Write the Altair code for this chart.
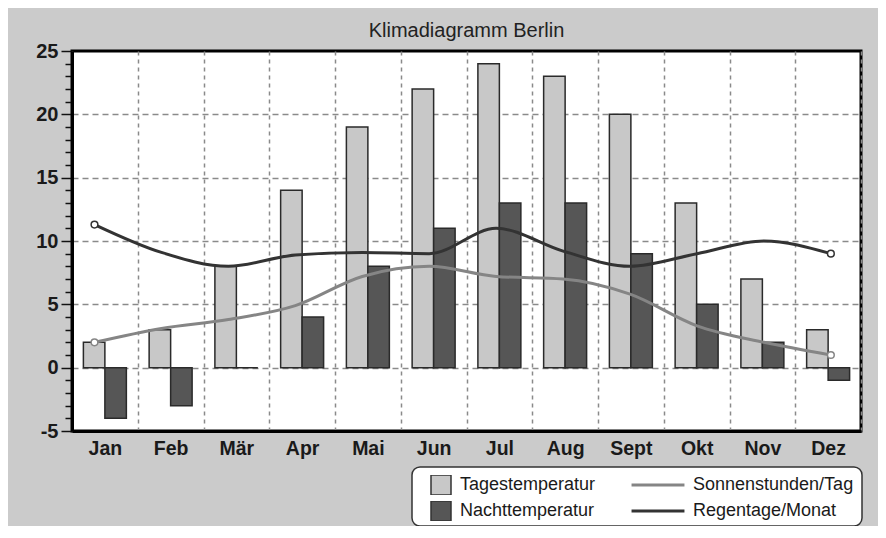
import altair as alt
import pandas as pd

# ---- data ----
months = ["Jan", "Feb", "Mär", "Apr", "Mai", "Jun", "Jul", "Aug", "Sept", "Okt", "Nov", "Dez"]
tagestemperatur = [2, 3, 8, 14, 19, 22, 24, 23, 20, 13, 7, 3]
nachttemperatur = [-4, -3, 0, 4, 8, 11, 13, 13, 9, 5, 2, -1]
sonnenstunden = [2.0, 3.1, 3.8, 4.9, 7.2, 8.0, 7.2, 7.0, 5.8, 3.3, 2.0, 1.0]
regentage = [11.3, 9.1, 8.0, 8.9, 9.1, 9.0, 11.0, 9.2, 8.0, 9.0, 10.0, 9.0]
y_ticks = list(range(-5, 26))

bar_series = ["Tagestemperatur", "Nachttemperatur"]
bar_colors = ["#c8c8c8", "#565656"]
line_series = ["Sonnenstunden/Tag", "Regentage/Monat"]
line_colors = ["#858585", "#333333"]

bars_df = pd.DataFrame(
    [{"Monat": m, "Serie": bar_series[0], "Wert": v} for m, v in zip(months, tagestemperatur)]
    + [{"Monat": m, "Serie": bar_series[1], "Wert": v} for m, v in zip(months, nachttemperatur)]
)
lines_df = pd.DataFrame(
    [{"i": i, "Monat": m, "Serie": line_series[0], "Farbe": line_colors[0], "Wert": v}
     for i, (m, v) in enumerate(zip(months, sonnenstunden))]
    + [{"i": i, "Monat": m, "Serie": line_series[1], "Farbe": line_colors[1], "Wert": v}
       for i, (m, v) in enumerate(zip(months, regentage))]
)
ends_df = lines_df[lines_df["i"].isin([0, len(months) - 1])]

FONT = "Liberation Sans"

y_scale = alt.Scale(domain=[-5, 25], nice=False)
y_axis = alt.Axis(
    values=y_ticks, title=None,
    labelExpr="datum.value % 5 == 0 ? replace(datum.label, '\u2212', '-') : ''",
    labelFont=FONT, labelFontSize=20, labelFontWeight="bold", labelColor="#1a1a1a",
    labelPadding=3,
    tickColor="#111111", tickWidth=1.5,
    tickSize={"condition": {"test": "datum.value % 5 === 0", "value": 11}, "value": 7},
    grid=True, gridColor="#8a8a8a", gridDash=[6, 4], gridWidth=1.5,
    gridOpacity={"condition": {"test": "datum.value % 5 === 0 && datum.value > -5 && datum.value < 25",
                               "value": 1}, "value": 0},
    domainColor="#000000", domainWidth=3,
)

x_axis = alt.Axis(
    title=None, labelAngle=0, labelFont=FONT, labelFontSize=19.5, labelFontWeight="bold",
    labelColor="#1a1a1a", labelPadding=8, ticks=False, tickBand="extent",
    grid=True, gridColor="#8a8a8a", gridDash=[4, 4], gridWidth=1.5,
    domainColor="#000000", domainWidth=3,
)

box = alt.Chart(pd.DataFrame({"k": [0]})).mark_rect(
    fill="white", stroke="#333333", strokeWidth=1.5, cornerRadius=8
).encode(
    x=alt.value(340), x2=alt.value(790), y=alt.value(416), y2=alt.value(475)
)

bars = alt.Chart(bars_df).mark_bar(stroke="#2a2a2a", strokeWidth=1.5).encode(
    x=alt.X("Monat:N", sort=months, axis=x_axis, scale=alt.Scale(paddingInner=0, paddingOuter=0)),
    xOffset=alt.XOffset("Serie:N", sort=bar_series,
                        scale=alt.Scale(domain=bar_series, paddingInner=0, paddingOuter=0.53)),
    y=alt.Y("Wert:Q", scale=y_scale, axis=y_axis),
    fill=alt.Fill(
        "Serie:N", scale=alt.Scale(domain=bar_series, range=bar_colors),
        legend=alt.Legend(
            title=None, orient="none", legendX=358, legendY=424, direction="vertical",
            symbolType="square", symbolSize=400, symbolStrokeColor="#333333",
            symbolStrokeWidth=1.5, labelFont=FONT, labelFontSize=18, labelColor="#1a1a1a",
            labelOffset=8, rowPadding=6, clipHeight=20, labelLimit=400,
        ),
    ),
)

x_line = alt.X("i:Q", scale=alt.Scale(domain=[-0.336, 11.45], nice=False, zero=False), axis=None)

lines = alt.Chart(lines_df).mark_line(interpolate="monotone", strokeWidth=3).encode(
    x=x_line,
    y=alt.Y("Wert:Q", scale=y_scale, axis=y_axis),
    stroke=alt.Stroke(
        "Serie:N", scale=alt.Scale(domain=line_series, range=line_colors),
        legend=alt.Legend(
            title=None, orient="none", legendX=558, legendY=424, direction="vertical",
            symbolType="stroke", symbolSize=2800, symbolStrokeWidth=3,
            labelFont=FONT, labelFontSize=18, labelColor="#1a1a1a",
            labelOffset=7, rowPadding=6, clipHeight=20, labelLimit=400,
        ),
    ),
    detail="Serie:N",
)

points = alt.Chart(ends_df).mark_circle(fill="white", size=45, strokeWidth=1.5, opacity=1).encode(
    x=x_line,
    y=alt.Y("Wert:Q", scale=y_scale, axis=y_axis),
    stroke=alt.Stroke("Farbe:N", scale=None, legend=None),
)

chart = alt.layer(box, bars, lines, points).resolve_scale(x="independent").properties(
    width=789, height=380,
    padding={"left": 64, "top": 43, "right": 17, "bottom": 95},
    autosize=alt.AutoSizeParams(type="none"),
    background="#cbcbcb",
    title=alt.TitleParams("Klimadiagramm Berlin", fontSize=20, fontWeight="normal", font=FONT,
                          color="#222222", offset=9, dy=9, anchor="middle"),
).configure_view(stroke="#000000", strokeWidth=3, fill="white")

chart.save("out.html", embed_options={"renderer": "svg", "actions": False})
